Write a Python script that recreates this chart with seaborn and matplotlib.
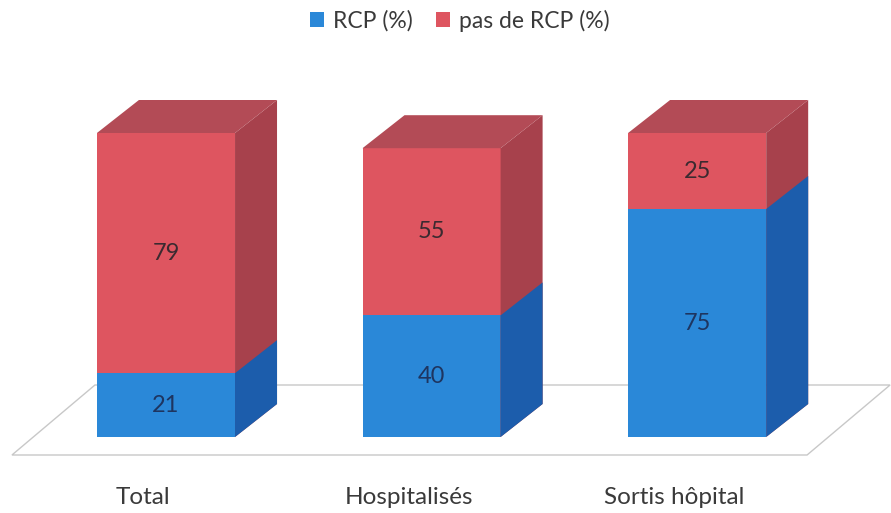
import matplotlib
matplotlib.use("Agg")
import matplotlib.pyplot as plt
from matplotlib.patches import Polygon, Patch
import seaborn as sns
import pandas as pd

# ---- data ----
categories = ["Total", "Hospitalisés", "Sortis hôpital"]
rcp = [21, 40, 75]
pas_rcp = [79, 55, 25]
series_labels = ["RCP (%)", "pas de RCP (%)"]

# ---- style ----
sns.set_theme(style="white")
plt.rcParams["font.family"] = ["Lato", "DejaVu Sans"]

blue_front, blue_side = "#2A88D8", "#1C5DAC"
red_front, red_side, red_top = "#DE5560", "#A7414C", "#B34B56"
text_col = "#3A3A3A"
val_col_blue = "#1E3560"
val_col_red = "#3B2A30"

df = pd.DataFrame({"cat": categories, "rcp": rcp, "pas": pas_rcp})
df["total"] = df["rcp"] + df["pas"]

fig = plt.figure(figsize=(8.91, 5.13), dpi=100)
ax = fig.add_axes([0, 0, 1, 1])

sns.barplot(data=df, x="cat", y="total", color=red_front, width=0.52,
            saturation=1, ax=ax, linewidth=0, zorder=2)
n_red = len(ax.patches)
sns.barplot(data=df, x="cat", y="rcp", color=blue_front, width=0.52,
            saturation=1, ax=ax, linewidth=0, zorder=2)
red_patches = ax.patches[:n_red]
blue_patches = ax.patches[n_red:]

ax.set_xlim(-0.625, 2.73)
ax.set_ylim(-25.0, 143.75)
ax.set_axis_off()

# pixel -> data conversion
p0 = ax.transData.transform((0, 0))
px_x = ax.transData.transform((1, 0))[0] - p0[0]
px_y = ax.transData.transform((0, 1))[1] - p0[1]
def dxp(px):
    return px / px_x
def dyp(px):
    return px / px_y

DX, DY = dxp(42), dyp(33)

# floor
f_front = dyp(-18)
f_left, f_right = -0.58, 2.414
fdx, fdy = dxp(83), dyp(70)
floor = Polygon([(f_left, f_front), (f_right, f_front),
                 (f_right + fdx, f_front + fdy), (f_left + fdx, f_front + fdy)],
                closed=True, facecolor="white", edgecolor="#C8C8C8",
                linewidth=1.0, zorder=1)
ax.add_patch(floor)

def side_face(p, color):
    x0 = p.get_x(); w = p.get_width(); y0 = p.get_y(); h = p.get_height()
    x1 = x0 + w; y1 = y0 + h
    ax.add_patch(Polygon([(x1, y0), (x1, y1), (x1 + DX, y1 + DY), (x1 + DX, y0 + DY)],
                         closed=True, facecolor=color, edgecolor="none", zorder=2))

def top_face(p, color):
    x0 = p.get_x(); w = p.get_width(); y1 = p.get_y() + p.get_height()
    ax.add_patch(Polygon([(x0, y1), (x0 + w, y1), (x0 + w + DX, y1 + DY), (x0 + DX, y1 + DY)],
                         closed=True, facecolor=color, edgecolor="none", zorder=2))

for p in red_patches:
    side_face(p, red_side)
    top_face(p, red_top)
for p in blue_patches:
    side_face(p, blue_side)

# value labels
for i, (b, r) in enumerate(zip(rcp, pas_rcp)):
    ax.text(i, b / 2, f"{b}", ha="center", va="center", fontsize=17, color=val_col_blue, zorder=5)
    ax.text(i, b + r / 2, f"{r}", ha="center", va="center", fontsize=17, color=val_col_red, zorder=5)

# category labels
off = dxp(-23)
for i, c in enumerate(categories):
    ax.text(i + off, dyp(-61), c, ha="center", va="center", fontsize=17.5, color=text_col)

handles = [Patch(facecolor=blue_front, edgecolor="none", label=series_labels[0]),
           Patch(facecolor=red_front, edgecolor="none", label=series_labels[1])]
ax.legend(handles=handles, loc="center", bbox_to_anchor=(0.516, 0.96), ncol=2,
          frameon=False, fontsize=16.5, handlelength=0.6, handleheight=0.6,
          handletextpad=0.4, columnspacing=1.0, labelcolor=text_col)

fig.savefig("out.png", dpi=100, facecolor="white")
